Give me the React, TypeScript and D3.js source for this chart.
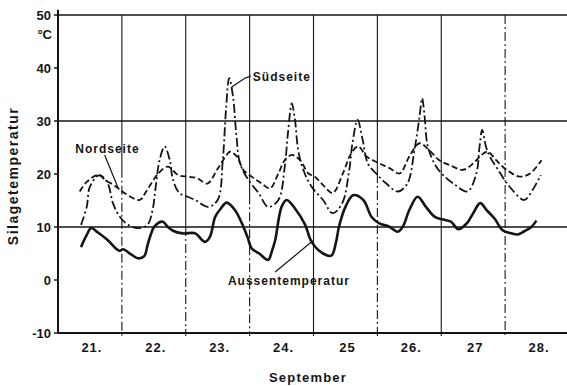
import React from "react";
import * as d3 from "d3";

// readings taken off the scanned figure: [day of September, °C]
const aussen: [number, number][] = [
  [21.36, 6.2], [21.45, 8.5], [21.52, 9.8], [21.62, 9.0], [21.78, 7.5], [21.92, 5.8],
  [21.97, 5.5], [22.02, 5.8], [22.15, 4.8], [22.25, 4.1], [22.35, 4.5], [22.4, 6.5],
  [22.45, 8.5], [22.51, 10.1], [22.64, 11.0], [22.72, 10.0], [22.8, 9.3], [22.95, 8.8],
  [23.15, 8.8], [23.25, 7.6], [23.3, 7.2], [23.38, 8.2], [23.46, 11.9], [23.55, 13.5],
  [23.64, 14.6], [23.77, 13.2], [23.9, 10.1], [23.97, 8.0], [24.03, 6.0], [24.15, 5.0],
  [24.29, 3.8], [24.35, 5.5], [24.4, 7.5], [24.5, 13.8], [24.58, 15.1], [24.71, 13.5],
  [24.87, 10.4], [24.97, 7.2], [25.15, 5.0], [25.28, 4.6], [25.35, 7.0], [25.4, 10.1],
  [25.5, 13.8], [25.62, 16.0], [25.78, 15.1], [25.91, 11.9], [26.03, 10.7], [26.18, 10.1],
  [26.32, 9.1], [26.4, 10.1], [26.5, 13.2], [26.63, 15.7], [26.76, 13.8], [26.9, 11.9],
  [27.03, 11.4], [27.15, 11.0], [27.27, 9.6], [27.4, 10.7], [27.5, 12.6], [27.61, 14.5],
  [27.71, 13.2], [27.84, 11.5], [27.96, 9.4], [28.1, 8.8], [28.2, 8.6], [28.3, 9.2],
  [28.41, 10.0], [28.49, 11.2],
];

const suedseite: [number, number][] = [
  [21.36, 10.4], [21.45, 13.8], [21.5, 17.6], [21.65, 19.8], [21.78, 18.2], [21.86, 14.5],
  [21.97, 11.9], [22.1, 10.4], [22.25, 9.8], [22.4, 10.4], [22.48, 13.2], [22.53, 17.6],
  [22.59, 22.6], [22.67, 25.2], [22.75, 22.6], [22.8, 18.9], [22.9, 16.4], [23.03, 15.7],
  [23.15, 15.1], [23.35, 13.8], [23.5, 15.1], [23.58, 22.6], [23.63, 32.1], [23.68, 38.1],
  [23.74, 34.6], [23.79, 27.7], [23.85, 22.0], [23.98, 18.9], [24.14, 16.4], [24.29, 13.8],
  [24.45, 15.1], [24.55, 21.4], [24.6, 27.7], [24.66, 33.3], [24.71, 30.2], [24.76, 24.5],
  [24.84, 20.8], [24.97, 17.6], [25.15, 15.1], [25.3, 12.6], [25.45, 14.5], [25.56, 20.8],
  [25.61, 25.8], [25.69, 30.2], [25.77, 26.4], [25.85, 22.0], [25.98, 20.1], [26.14, 18.2],
  [26.32, 16.7], [26.47, 18.2], [26.58, 24.5], [26.66, 30.8], [26.7, 34.3], [26.74, 30.8],
  [26.79, 25.2], [26.92, 21.4], [27.03, 19.8], [27.19, 18.2], [27.41, 16.7], [27.55, 20.1],
  [27.6, 25.2], [27.64, 28.3], [27.7, 25.2], [27.76, 23.3], [27.89, 20.8], [28.07, 17.6],
  [28.3, 15.1], [28.43, 17.0], [28.56, 19.8],
];

const nordseite: [number, number][] = [
  [21.34, 16.7], [21.45, 18.5], [21.63, 19.8], [21.75, 18.8], [21.91, 17.6], [22.04, 16.4],
  [22.28, 15.1], [22.38, 16.7], [22.57, 20.1], [22.72, 21.4], [22.88, 19.8], [23.03, 19.5],
  [23.18, 19.2], [23.34, 18.2], [23.49, 20.8], [23.64, 23.6], [23.69, 24.2], [23.8, 23.3],
  [23.9, 20.8], [24.03, 19.5], [24.19, 18.2], [24.32, 17.3], [24.45, 20.1], [24.55, 22.6],
  [24.66, 23.6], [24.79, 22.6], [24.92, 20.1], [25.02, 19.5], [25.15, 17.9], [25.3, 16.4],
  [25.46, 20.1], [25.59, 23.9], [25.7, 25.2], [25.83, 23.3], [25.93, 22.6], [26.03, 22.0],
  [26.19, 21.1], [26.35, 20.1], [26.5, 23.3], [26.66, 25.8], [26.81, 24.5], [26.97, 22.6],
  [27.13, 21.7], [27.34, 20.8], [27.5, 22.0], [27.63, 23.6], [27.73, 24.2], [27.86, 22.6],
  [28.02, 20.8], [28.23, 19.5], [28.39, 20.1], [28.57, 22.6],
];

const dayTicks = [21, 22, 23, 24, 25, 26, 27, 28];
const dayLabels = ["21.", "22.", "23.", "24.", "25", "26.", "27", "28."];
const tempTicks = [-10, 0, 10, 20, 30, 40, 50];
const gridTemps = [10, 30, 50];
const dayBoundaries = [22, 23, 24, 25, 26, 27, 28];
// temperature where each boundary line turns from solid to dash-dot
const solidDownTo = [21, 10, 16, -10, 20, -10, 50];

const W = 567;
const H = 386;
const font = "'Liberation Sans', Arial, sans-serif";
const ink = "#151515";

export default function App() {
  const x = d3.scaleLinear().domain([21, 29]).range([58, 569]);
  const y = d3.scaleLinear().domain([-10, 50]).range([333, 15]);

  const line = d3
    .line<[number, number]>()
    .x(d => x(d[0]))
    .y(d => y(d[1]))
    .curve(d3.curveCatmullRom.alpha(0.5));

  const leader = d3.line<[number, number]>().x(d => x(d[0])).y(d => y(d[1]));

  return (
    <svg width={W} height={H} style={{ position: "absolute", left: 0, top: 0, background: "#fff" }}>
      {/* horizontal grid */}
      {gridTemps.map(t => (
        <line key={t} x1={x(21)} x2={W} y1={y(t)} y2={y(t)} stroke={ink} strokeWidth={1.5} />
      ))}
      {/* day boundaries */}
      {dayBoundaries.map((d, i) => (
        <g key={d}>
          {solidDownTo[i] < 50 && (
            <line x1={x(d)} x2={x(d)} y1={y(50)} y2={y(solidDownTo[i])} stroke={ink} strokeWidth={1.1} />
          )}
          {solidDownTo[i] > -10 && (
            <line
              x1={x(d)}
              x2={x(d)}
              y1={y(Math.min(50, solidDownTo[i]))}
              y2={y(-10) + 3}
              stroke={ink}
              strokeWidth={1.1}
              strokeDasharray="9,3,2,3"
            />
          )}
          {solidDownTo[i] <= -10 && (
            <line x1={x(d)} x2={x(d)} y1={y(-10)} y2={y(-10) + 3} stroke={ink} strokeWidth={1.1} />
          )}
        </g>
      ))}
      {/* axes */}
      <line x1={x(21)} x2={x(21)} y1={y(51)} y2={y(-10)} stroke={ink} strokeWidth={2} />
      <line x1={x(21)} x2={W} y1={y(-10)} y2={y(-10)} stroke={ink} strokeWidth={2.2} />
      {tempTicks.map(t => (
        <g key={t}>
          <line x1={x(21) - 4} x2={x(21)} y1={y(t)} y2={y(t)} stroke={ink} strokeWidth={1.5} />
          <text
            x={x(21) - 7}
            y={y(t) + 4.5}
            textAnchor="end"
            fontFamily={font}
            fontWeight="bold"
            fontSize={13}
            fill={ink}
          >
            {t}
          </text>
        </g>
      ))}
      <text x={x(21) - 6} y={y(45.5)} textAnchor="end" fontFamily={font} fontWeight="bold" fontSize={13} fill={ink}>
        °C
      </text>
      <text
        transform={`translate(18,176) rotate(-90)`}
        textAnchor="middle"
        fontFamily={font}
        fontWeight="bold"
        fontSize={14}
        letterSpacing={1.5}
        fill={ink}
      >
        Silagetemperatur
      </text>
      {dayTicks.map((d, i) => (
        <text
          key={d}
          x={x(d + 0.5) + 2}
          y={352}
          textAnchor="middle"
          fontFamily={font}
          fontWeight="bold"
          fontSize={13}
          letterSpacing={1}
          fill={ink}
        >
          {dayLabels[i]}
        </text>
      ))}
      <text x={308} y={382} textAnchor="middle" fontFamily={font} fontWeight="bold" fontSize={13} letterSpacing={1.2} fill={ink}>
        September
      </text>

      {/* series */}
      <path d={line(nordseite) ?? ""} fill="none" stroke={ink} strokeWidth={1.8} strokeDasharray="6,3" />
      <path d={line(suedseite) ?? ""} fill="none" stroke={ink} strokeWidth={1.8} strokeDasharray="9,3,2,3" />
      <path d={line(aussen) ?? ""} fill="none" stroke={ink} strokeWidth={2.6} strokeLinejoin="round" />

      {/* annotations */}
      <path d={leader([[21.73, 23.6], [21.94, 17.4]]) ?? ""} stroke={ink} strokeWidth={1.2} fill="none" />
      <text x={x(21.27)} y={y(24)} fontFamily={font} fontWeight="bold" fontSize={12} letterSpacing={1} fill={ink}>
        Nordseite
      </text>
      <path d={leader([[24.02, 38.5], [23.93, 38.1], [23.72, 36.4]]) ?? ""} stroke={ink} strokeWidth={1.2} fill="none" />
      <text x={x(24.05)} y={y(37.6)} fontFamily={font} fontWeight="bold" fontSize={12} letterSpacing={1} fill={ink}>
        Südseite
      </text>
      <path d={leader([[24.4, 1.5], [24.99, 7.4]]) ?? ""} stroke={ink} strokeWidth={1.2} fill="none" />
      <text x={x(23.66)} y={y(-1)} fontFamily={font} fontWeight="bold" fontSize={12} letterSpacing={1} fill={ink}>
        Aussentemperatur
      </text>
    </svg>
  );
}
